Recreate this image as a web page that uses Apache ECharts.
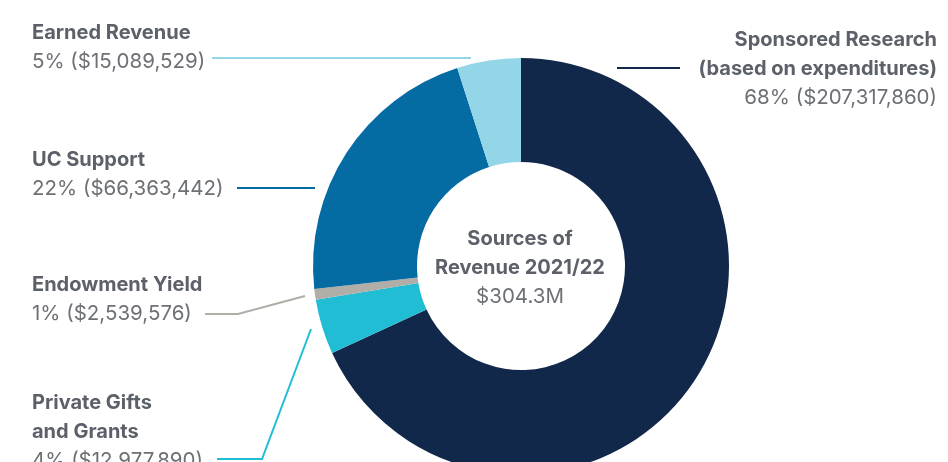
<!DOCTYPE html>
<html>
<head>
<meta charset="utf-8">
<script src="https://cdn.jsdelivr.net/npm/echarts@6/dist/echarts.min.js"></script>
<style>
html,body{margin:0;padding:0;background:#fff;}
#c{width:948px;height:462px;}
</style>
</head>
<body>
<div id="c"></div>
<script>
// Data (clockwise from 12 o'clock)
const categories = ['Sponsored Research', 'Private Gifts and Grants', 'Endowment Yield', 'UC Support', 'Earned Revenue'];
const labelTitles = ['Sponsored Research\n(based on expenditures)', 'Private Gifts\nand Grants', 'Endowment Yield', 'UC Support', 'Earned Revenue'];
const values = [207317860, 12977890, 2539576, 66363442, 15089529];
const colors = ['#11284a', '#21bdd5', '#b1aea8', '#056ca3', '#93d6e8'];
const centerTitle = ['Sources of', 'Revenue 2021/22'];
const centerValue = '$304.3M';

const total = values.reduce((a, b) => a + b, 0);
const fmt = v => '$' + v.toLocaleString('en-US');

// Layout (positions of labels and leader lines)
const layout = [
  { x: 937, y: 25, align: 'right', line: [[617, 68], [650, 68], [680, 68]] },
  { x: 32, y: 388, align: 'left', line: [[311, 329], [262, 459], [217, 459]] },
  { x: 32, y: 270, align: 'left', line: [[305, 296], [238, 314], [205, 314]] },
  { x: 32, y: 145, align: 'left', line: [[315, 188], [280, 188], [237, 188]] },
  { x: 32, y: 18, align: 'left', line: [[471, 58], [300, 58], [212, 58]] }
];

const FONT = 'Inter';
const TS = { fontFamily: FONT, fontWeight: 700, fontSize: 20, lineHeight: 29 };
const VS = { fontFamily: FONT, fontWeight: 400, fontSize: 20.5, lineHeight: 29 };
const chart = echarts.init(document.getElementById('c'));
chart.setOption({
  animation: false,
  graphic: [{
    type: 'text',
    x: 520,
    y: 224,
    style: {
      text: '{t|' + centerTitle[0] + '}\n{t|' + centerTitle[1] + '}\n{v|' + centerValue + '}',
      align: 'center',
      verticalAlign: 'top',
      rich: {
        t: Object.assign({}, TS, { fill: '#5c6068', align: 'center' }),
        v: Object.assign({}, VS, { fill: '#6d7075', align: 'center' })
      }
    }
  }],
  series: [{
    type: 'pie',
    center: [521, 266],
    radius: [104, 208],
    startAngle: 90,
    clockwise: true,
    avoidLabelOverlap: false,
    emphasis: { disabled: true },
    itemStyle: { borderWidth: 0 },
    label: {
      show: true,
      position: 'outside',
      formatter: p => {
        const title = labelTitles[p.dataIndex].split('\n').map(s => '{t|' + s + '}').join('\n');
        const pct = Math.round(p.value / total * 100);
        return title + '\n{v|' + pct + '% (' + fmt(p.value) + ')}';
      },
      rich: {
        t: Object.assign({}, TS, { color: '#5c6068' }),
        v: Object.assign({}, VS, { color: '#6d7075' })
      }
    },
    labelLine: { show: true, smooth: false, lineStyle: { width: 2 } },
    labelLayout: p => {
      const l = layout[p.dataIndex];
      return { x: l.x, y: l.y, align: l.align, verticalAlign: 'top', labelLinePoints: l.line };
    },
    data: categories.map((c, i) => ({
      name: c,
      value: values[i],
      itemStyle: { color: colors[i] },
      label: { align: layout[i].align },
      labelLine: { lineStyle: { color: colors[i] } }
    }))
  }]
});
</script>
</body>
</html>
